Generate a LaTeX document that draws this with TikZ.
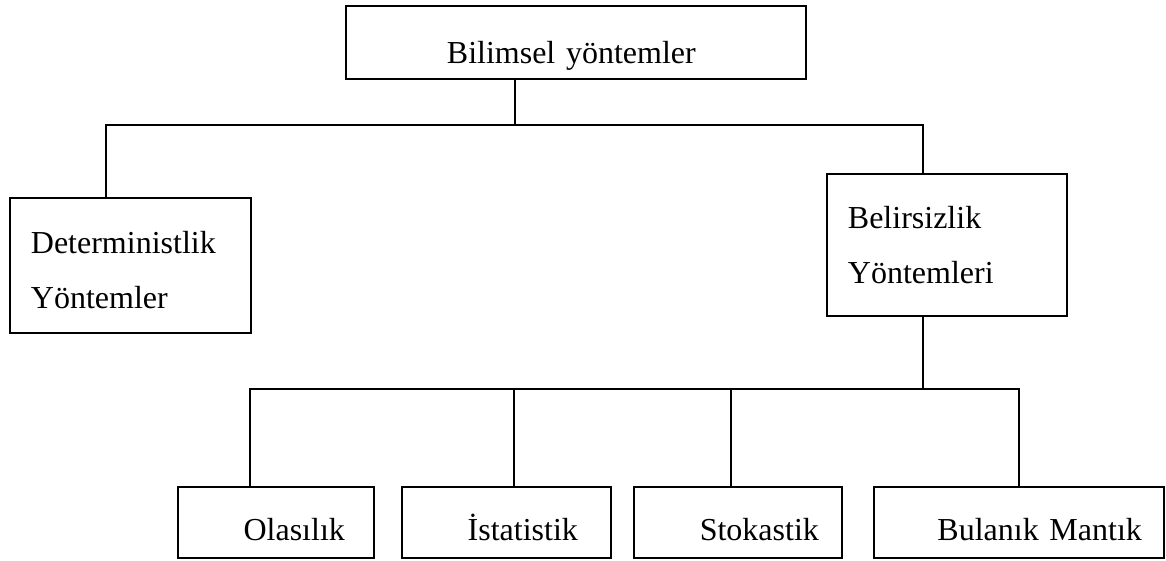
\documentclass[tikz,border=0pt]{standalone}
\usepackage{fontspec}
\setmainfont{Liberation Serif}
\usepackage{tikz}
\usetikzlibrary{positioning, calc}

\newcommand{\boxfont}{\fontsize{32}{55.5}\selectfont}

\tikzset{
	box/.style={draw, rectangle, line width=1.8pt, anchor=north west, inner ysep=0pt, font=\boxfont},
	leaf/.style={box, minimum height=71pt, align=right, text height=37pt, text depth=0pt},
	link/.style={line width=1.6pt},
}

\begin{document}
\begin{tikzpicture}[x=1pt, y=-1pt]
	\useasboundingbox (0,0) rectangle (1166,560);

	% boxes
	\node[box, minimum width=460pt, minimum height=73pt, align=left, inner xsep=101pt, text width=258pt, text height=43pt, text depth=0pt] (top) at (345,5) {Bilimsel yöntemler};
	\node[box, minimum width=241pt, minimum height=135pt, align=left, inner xsep=21pt, text width=199pt, text height=31pt] (det) at (9,197) {Deterministlik\\Yöntemler};
	\node[box, minimum width=240pt, minimum height=142pt, align=left, inner xsep=21pt, text width=198pt, text height=23pt] (bel) at (826,173) {Belirsizlik\\Yöntemleri};

	\node[leaf, minimum width=196pt, inner xsep=29pt, text width=138pt] (ola) at (177,486) {Olasılık};
	\node[leaf, minimum width=209pt, inner xsep=33pt, text width=143pt] (ist) at (401,486) {İstatistik};
	\node[leaf, minimum width=208pt, inner xsep=23pt, text width=162pt] (sto) at (633,486) {Stokastik};
	\node[leaf, minimum width=290pt, inner xsep=22pt, text width=246pt] (bul) at (873,486) {Bulanık Mantık};

	% buses
	\coordinate (upbus) at (0,125);
	\coordinate (lowbus) at (0,389);

	\coordinate (t0) at ([xshift=-61pt]top.south);
	\coordinate (d0) at ([xshift=-24.5pt]det.north);
	\coordinate (b0) at ([xshift=-24pt]bel.north);
	\coordinate (b1) at ([xshift=-24pt]bel.south);
	\coordinate (o0) at ([xshift=-26pt]ola.north);
	\coordinate (i0) at ([xshift=7.5pt]ist.north);
	\coordinate (s0) at ([xshift=-7pt]sto.north);
	\coordinate (u0) at (bul.north);

	\draw[link] (t0) -- (t0 |- upbus);
	\draw[link] (d0) |- (b0 |- upbus) -- (b0);

	\draw[link] (b1) -- (b1 |- lowbus);
	\draw[link] (o0) |- (u0 |- lowbus) -- (u0);
	\draw[link] (i0) -- (i0 |- lowbus);
	\draw[link] (s0) -- (s0 |- lowbus);
\end{tikzpicture}
\end{document}
